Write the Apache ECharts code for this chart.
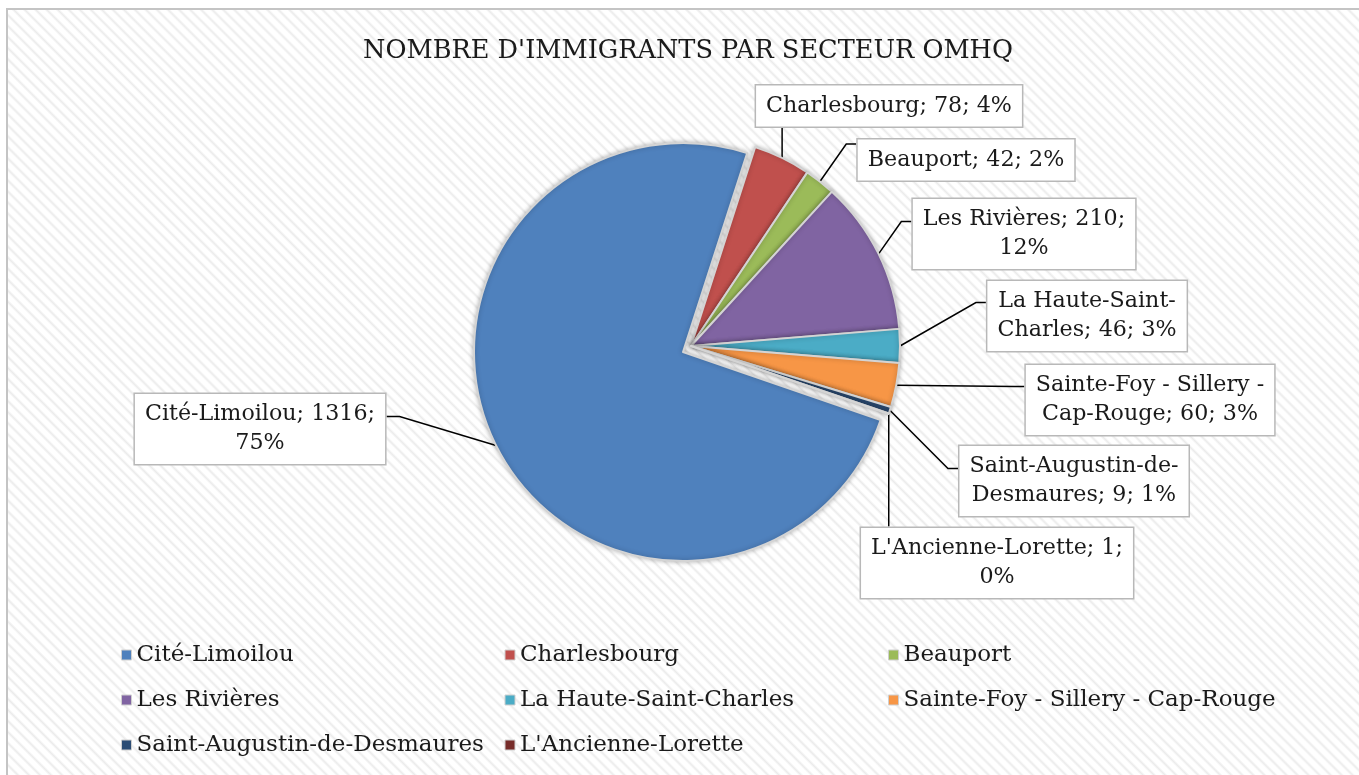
<!DOCTYPE html>
<html>
<head>
<meta charset="utf-8">
<script src="https://cdn.jsdelivr.net/npm/echarts@6/dist/echarts.min.js"></script>
<style>
  html, body { margin: 0; padding: 0; background: #fff; overflow: hidden; }
  #frame {
    position: absolute; left: 6px; top: 8px; width: 1420px; height: 820px;
    border: 2px solid #c4c4c4; box-sizing: border-box;
    background: repeating-linear-gradient(45deg, #ffffff 0px, #ffffff 2px, #ebebeb 4px, #ffffff 6px, #ffffff 7.8px);
  }
  #chart { position: absolute; left: 0; top: 0; width: 1359px; height: 775px; }
</style>
</head>
<body>
<div id="frame"></div>
<div id="chart"></div>
<script>
// ---- data ----
const categories = ["Cité-Limoilou", "Charlesbourg", "Beauport", "Les Rivières", "La Haute-Saint-Charles", "Sainte-Foy - Sillery - Cap-Rouge", "Saint-Augustin-de-Desmaures", "L'Ancienne-Lorette"];
const values = [1316, 78, 42, 210, 46, 60, 9, 1];
const titleText = "NOMBRE D'IMMIGRANTS PAR SECTEUR OMHQ";
// first line of each wrapped data label (null = single line)
const labelFirstLine = ["Cité-Limoilou; 1316;", null, null, "Les Rivières; 210;", "La Haute-Saint-", "Sainte-Foy - Sillery -", "Saint-Augustin-de-", "L'Ancienne-Lorette; 1;"];

// ---- styles / layout ----
const colors = ["#4F81BD", "#C0504D", "#9BBB59", "#8064A2", "#4BACC6", "#F79646", "#2C4D75", "#772C2A"];
const labelCenters = [[260, 429], [889, 106], [966, 160], [1024, 234], [1087, 316], [1150, 400], [1074, 481], [997, 563]];
// where the leader line meets the box, measured from the box top
const labelAttach = [24, 0, 6, 24, 23, 23, 24, 0];
// exploded pie: the first slice and the remaining slices are drawn with slightly offset centres
const pieCenters = [[683, 352], [691, 346]];
const FONT = "'DejaVu Serif', serif";

const total = values.reduce((a, b) => a + b, 0);
function labelText(i) {
  const full = categories[i] + '; ' + values[i] + '; ' + Math.round(values[i] / total * 100) + '%';
  const first = labelFirstLine[i];
  if (first && full.startsWith(first)) return first + '\n' + full.slice(first.length).trim();
  return full;
}

// leader line: from the slice edge (given by ECharts) to the moved label box, Excel style
function layoutLabel(p) {
  const c = labelCenters[p.dataIndex];
  const out = { x: c[0], y: c[1], align: 'center', verticalAlign: 'middle' };
  const pts = p.labelLinePoints;
  const lr = p.labelRect;
  if (!pts || !lr) return out;
  const s = pts[0];
  const w = lr.width, h = lr.height;
  const rx = c[0] - w / 2, ry = c[1] - h / 2;
  const attachY = ry + labelAttach[p.dataIndex];
  if (s[0] > rx && s[0] < rx + w) {
    const ey = s[1] < ry ? ry : ry + h;
    out.labelLinePoints = [[s[0], s[1]], [s[0], (s[1] + ey) / 2], [s[0], ey]];
  } else if (rx > s[0]) {
    out.labelLinePoints = [[s[0], s[1]], [rx - 10, attachY], [rx, attachY]];
  } else {
    out.labelLinePoints = [[s[0], s[1]], [rx + w + 13, attachY], [rx + w, attachY]];
  }
  return out;
}

const itemStyle = { borderColor: '#d4d4d4', borderWidth: 2, shadowBlur: 5, shadowColor: 'rgba(0,0,0,0.28)' };
const hidden = {
  itemStyle: { color: 'rgba(0,0,0,0)', borderWidth: 0, shadowBlur: 0, shadowColor: 'rgba(0,0,0,0)' },
  label: { show: false }, labelLine: { show: false }
};

function pieSeries(groupIdx, visible) {
  return {
    type: 'pie',
    center: pieCenters[groupIdx],
    radius: 209,
    startAngle: -19,
    clockwise: true,
    avoidLabelOverlap: false,
    silent: true,
    data: categories.map((name, i) => visible(i)
      ? { name, value: values[i] }
      : Object.assign({ name, value: values[i] }, hidden)),
    itemStyle: itemStyle,
    emphasis: { disabled: true },
    label: {
      show: true, position: 'outside',
      formatter: p => labelText(p.dataIndex),
      fontFamily: FONT, fontSize: 22.2, lineHeight: 29, color: '#1a1a1a', align: 'center',
      backgroundColor: '#ffffff', borderColor: '#b8b8b8', borderWidth: 1.5, padding: [6, 10, 6, 10]
    },
    labelLine: { show: true, length: 10, length2: 10, lineStyle: { color: '#000', width: 1.5 } },
    labelLayout: layoutLabel
  };
}

const chart = echarts.init(document.getElementById('chart'));
chart.setOption({
  animation: false,
  backgroundColor: 'transparent',
  color: colors,
  title: {
    text: titleText, left: 683, top: 33, textAlign: 'center',
    textStyle: { fontFamily: FONT, fontSize: 25.6, fontWeight: 'normal', color: '#1a1a1a' }
  },
  legend: {
    left: 116, top: 634, width: 1160,
    icon: 'rect', itemWidth: 10, itemHeight: 10, itemGap: 13,
    data: categories.map((name, i) => ({ name, itemStyle: { color: colors[i], borderColor: '#cfcfcf', borderWidth: 1 } })),
    textStyle: { fontFamily: FONT, fontSize: 23, color: '#1a1a1a', width: 355, lineHeight: 32 },
    selectedMode: false
  },
  series: [
    pieSeries(0, i => i === 0),
    pieSeries(1, i => i !== 0)
  ]
});
</script>
</body>
</html>
